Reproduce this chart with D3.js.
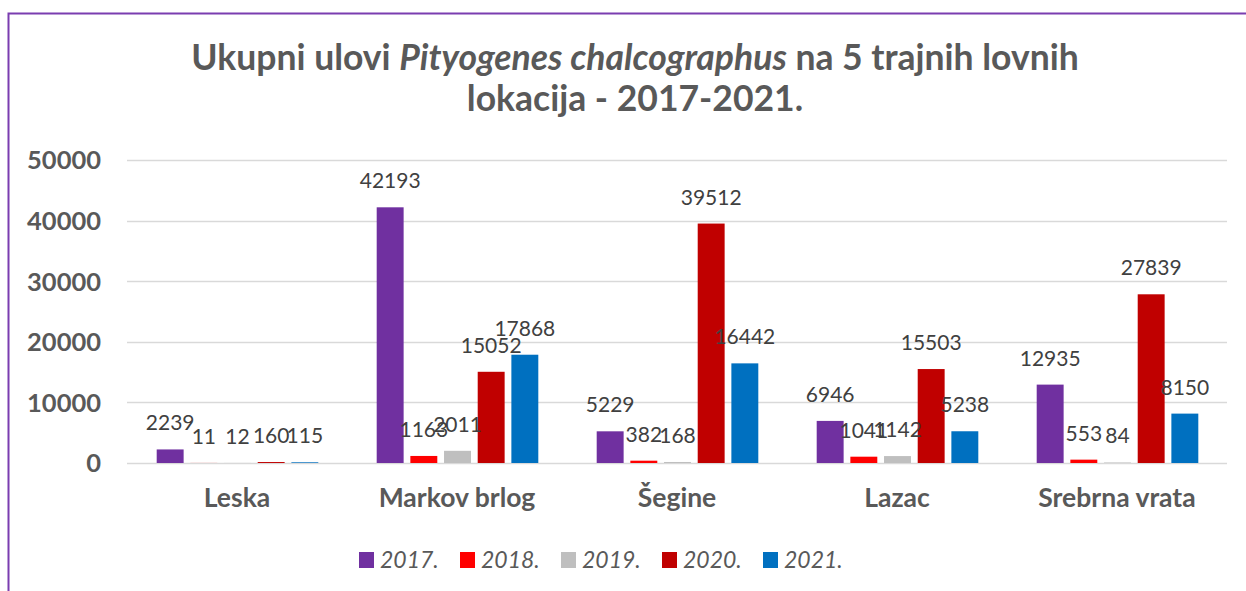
<!DOCTYPE html>
<html><head><meta charset="utf-8">
<script src="https://cdn.jsdelivr.net/npm/d3@7"></script>
<style>body{margin:0;background:#fff;} svg{display:block;}</style>
</head><body>
<svg id="c" width="1246" height="591"></svg>
<script>
const categories = ["Leska", "Markov brlog", "Šegine", "Lazac", "Srebrna vrata"];
const years = ["2017.", "2018.", "2019.", "2020.", "2021."];
const v2017 = [2239, 42193, 5229, 6946, 12935];
const v2018 = [11, 1163, 382, 1041, 553];
const v2019 = [12, 2011, 168, 1142, 84];
const v2020 = [160, 15052, 39512, 15503, 27839];
const v2021 = [115, 17868, 16442, 5238, 8150];
const yTicks = [0, 10000, 20000, 30000, 40000, 50000];
const colors = ["#7030A0", "#FF0000", "#BFBFBF", "#C00000", "#0070C0"];

const series = [v2017, v2018, v2019, v2020, v2021];
const svg = d3.select("#c");
const font = "Lato, 'Open Sans', sans-serif";
const grey = "#595959";

// border
svg.append("rect").attr("x", 8.5).attr("y", 13.5).attr("width", 1300).attr("height", 700)
  .attr("fill", "none").attr("stroke", "#7A3DB0").attr("stroke-width", 2);

// title
const t = svg.append("text").attr("text-anchor", "middle").attr("font-family", font)
  .attr("font-weight", "bold").attr("font-size", 35.5).attr("fill", grey);
const l1 = t.append("tspan").attr("x", 635).attr("y", 70);
l1.append("tspan").text("Ukupni ulovi ");
l1.append("tspan").attr("font-style", "italic").text("Pityogenes chalcographus");
l1.append("tspan").text(" na 5 trajnih lovnih");
t.append("tspan").attr("x", 635).attr("y", 111).text("lokacija - 2017-2021.");

const x = d3.scaleBand().domain(categories).range([127, 1227]);
const y = d3.scaleLinear().domain([0, 50000]).range([463, 160]);
const sub = d3.scaleBand().domain(d3.range(5)).range([27, 194]).paddingInner(0.2).paddingOuter(0.08);

// gridlines
svg.append("g").selectAll("line").data(yTicks).join("line")
  .attr("x1", 127).attr("x2", 1227).attr("y1", d => Math.round(y(d)) + 0.5).attr("y2", d => Math.round(y(d)) + 0.5)
  .attr("stroke", "#D9D9D9").attr("stroke-width", 1.5);

// y axis
const ya = svg.append("g").attr("transform", "translate(101,0)")
  .call(d3.axisLeft(y).tickValues(yTicks).tickSize(0).tickPadding(0).tickFormat(d3.format("d")));
ya.select(".domain").remove();
ya.selectAll("text").attr("font-family", font).attr("font-weight", "bold").attr("font-size", 25.5).attr("fill", grey).attr("dy", "0.35em");

// x axis
const xa = svg.append("g").attr("transform", "translate(0,463)")
  .call(d3.axisBottom(x).tickSize(0).tickPadding(0));
xa.select(".domain").remove();
xa.selectAll("text").attr("font-family", font).attr("font-weight", "bold").attr("font-size", 26.5).attr("fill", grey)
  .attr("y", 44).attr("dy", 0);

// bars
const data = [];
categories.forEach((c, ci) => series.forEach((s, si) => data.push({c, si, v: s[ci]})));
svg.append("g").selectAll("rect").data(data).join("rect")
  .attr("x", d => x(d.c) + sub(d.si)).attr("width", sub.bandwidth())
  .attr("y", d => y(d.v)).attr("height", d => y(0) - y(d.v))
  .attr("fill", d => colors[d.si]);

// labels
svg.append("g").selectAll("text").data(data).join("text")
  .attr("x", d => x(d.c) + sub(d.si) + sub.bandwidth() / 2)
  .attr("y", d => y(d.v) - 19)
  .attr("text-anchor", "middle").attr("font-family", font).attr("font-size", 21).attr("fill", "#404040")
  .text(d => d.v);

// legend
const lg = svg.append("g").selectAll("g").data(years).join("g")
  .attr("transform", (d, i) => `translate(${359 + i * 101},552)`);
lg.append("rect").attr("width", 15).attr("height", 16).attr("fill", (d, i) => colors[i]);
lg.append("text").attr("x", 21).attr("y", 16).attr("font-family", font).attr("font-style", "italic")
  .attr("font-size", 23).attr("fill", grey).text(d => d);
</script>
</body></html>
